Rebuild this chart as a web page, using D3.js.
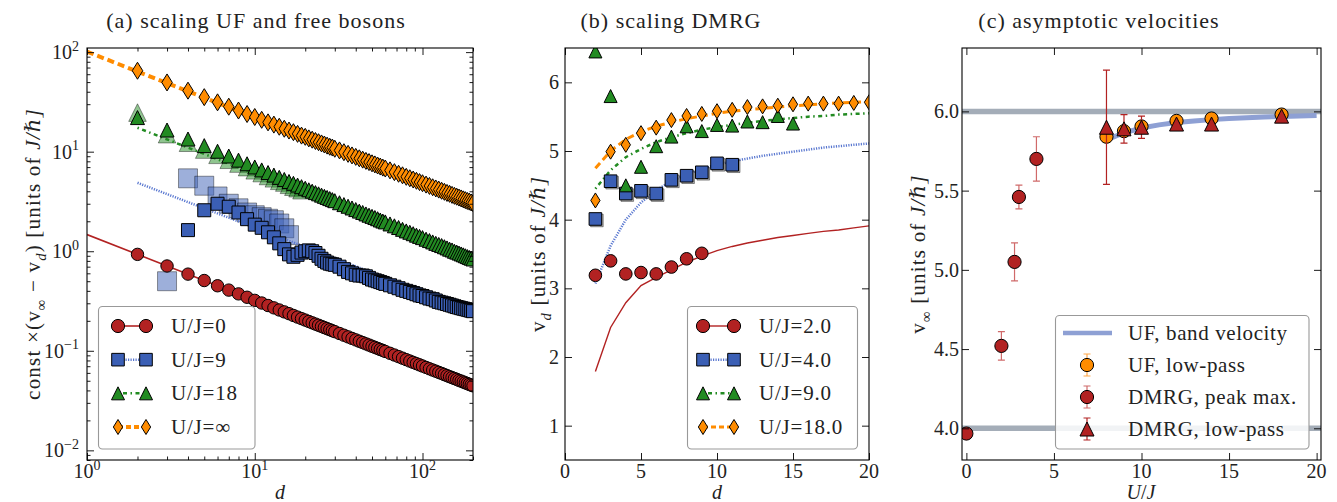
<!DOCTYPE html>
<html>
<head>
<meta charset="utf-8">
<script src="https://cdn.jsdelivr.net/npm/d3@7"></script>
<style>
body { margin: 0; background: #fff; }
svg text { font-family: "Liberation Serif", "DejaVu Serif", serif; fill: #222; }
</style>
</head>
<body>
<svg width="1337" height="502"></svg>
<script>
// ---------- (a) scaling UF and free bosons ----------
var dA = [2,3,4,5,6,7,8,9,10,11,12,13,14,15,16,17,18,19,20,21,22,23,24,25,26,27,28,29,30,
  32,34,36,38,40,42,44,46,48,50,52,54,56,58,60,64,68,72,76,80,84,88,92,96,100,
  105,110,115,120,125,130,135,140,145,150,155,160,165,170,175,180,185,190,195,200];
var ufU0 = [0.930,0.711,0.589,0.508,0.450,0.407,0.373,0.345,0.321,0.302,0.285,0.270,0.257,0.246,0.236,0.2265,0.218,0.2105,0.2035,0.197,0.191,0.1855,0.1805,0.1757,0.1712,0.1669,0.1630,0.1592,0.1557,
  0.1492,0.1434,0.1380,0.1332,0.1288,0.1247,0.1209,0.1174,0.1142,0.1111,0.1083,0.1056,0.1031,0.1008,0.0985,
  0.0944,0.0907,0.0874,0.0843,0.0815,0.0789,0.0765,0.0743,0.0723,0.0703,
  0.0681,0.0660,0.0641,0.0624,0.0607,0.0592,0.0577,0.0563,0.0550,0.0538,0.0527,0.0516,0.0505,0.0496,0.0486,0.0477,0.0469,0.0460,0.0453,0.0445];
var dU9 = dA.slice(2);
var ufU9 = [1.63,2.58,3.0,2.8,2.45,2.1,1.85,1.72,1.55,1.38,1.2,1.05,0.93,0.88,0.92,0.97,1.0,1.02,1.0,0.96,0.9,0.84,0.8,0.77,0.75,0.74,0.73,
  0.70,0.66,0.62,0.60,0.58,0.57,0.57,0.56,0.54,0.52,0.51,0.50,0.49,0.48,0.47,
  0.455,0.44,0.425,0.41,0.40,0.39,0.38,0.37,0.36,0.355,
  0.345,0.335,0.33,0.32,0.31,0.305,0.30,0.295,0.29,0.285,0.28,0.275,0.272,0.268,0.265,0.262,0.259,0.256,0.253,0.25];
var dU9b = [3,4,5,6,7,8,9,10,11,12,13,14,15,16];
var ufU9b = [0.50,5.4,4.55,3.55,3.0,2.7,2.45,2.3,2.2,2.12,2.05,1.9,1.7,1.45];
var ufU18 = [22.0,16.5,13.4,11.5,10.1,9.04,8.22,7.56,7.02,6.56,6.17,5.82,5.52,5.26,5.02,4.81,4.62,4.45,4.29,4.14,4.01,3.88,3.77,3.66,3.56,3.47,3.38,3.30,3.22,
  3.07,2.94,2.83,2.72,2.62,2.53,2.45,2.37,2.30,2.24,2.18,2.12,2.06,2.01,1.97,
  1.88,1.80,1.73,1.66,1.60,1.55,1.50,1.45,1.41,1.37,
  1.32,1.28,1.24,1.20,1.17,1.14,1.11,1.08,1.05,1.03,1.00,0.980,0.959,0.939,0.920,0.901,0.884,0.867,0.852,0.836];
var dU18b = [2,3,4,5,6,7,8,9,10,11,12,13,14,15,16,17,18,19];
var ufU18b = [24.7,15.0,12.3,10.5,9.3,8.3,7.6,7.0,6.5,6.1,5.7,5.4,5.1,4.9,4.65,4.45,4.3,4.1];
var ufInf = [65.0,49.6,41.0,35.3,31.3,28.3,25.9,23.9,22.3,20.9,19.7,18.7,17.8,17.0,16.3,15.7,15.1,14.5,14.1,13.6,13.2,12.8,12.45,12.1,11.8,11.5,11.2,11.0,10.7,
  10.3,9.88,9.51,9.17,8.87,8.58,8.32,8.08,7.86,7.64,7.45,7.26,7.09,6.92,6.77,
  6.49,6.23,6.00,5.79,5.59,5.41,5.25,5.10,4.95,4.82,
  4.67,4.53,4.39,4.27,4.16,4.05,3.95,3.85,3.77,3.68,3.60,3.53,3.46,3.39,3.32,3.26,3.20,3.15,3.09,3.04];
// fitted power laws (end points)
var fitD0 = [1,200], fit0 = [1.47,0.0445];
var fitD9 = [2,200], fit9 = [4.87,0.25];
var fitD18 = [2,200], fit18 = [17.4,0.82];
var fitDInf = [1,200], fitInf = [101,3.04];
var legendA = ["U/J=0","U/J=9","U/J=18","U/J=\u221e"];

// ---------- (b) scaling DMRG ----------
var dB = [2,3,4,5,6,7,8,9,10,11,12,13,14,15,16,17,18,19,20];
var lineB2 = [1.79,2.43,2.79,3.04,3.16,3.27,3.38,3.47,3.55,3.61,3.66,3.70,3.74,3.77,3.80,3.83,3.85,3.88,3.91];
var lineB4 = [3.07,3.62,4.0,4.25,4.43,4.56,4.66,4.74,4.80,4.85,4.89,4.93,4.96,4.99,5.02,5.05,5.07,5.09,5.11];
var lineB9 = [4.45,4.72,4.91,5.03,5.13,5.2,5.26,5.31,5.35,5.38,5.41,5.44,5.46,5.48,5.5,5.51,5.53,5.54,5.55];
var lineB18 = [4.75,5.0,5.17,5.28,5.36,5.42,5.47,5.51,5.55,5.58,5.6,5.62,5.64,5.66,5.67,5.69,5.7,5.71,5.72];
var dmrgB2 = [3.19,3.40,3.21,3.23,3.21,3.31,3.43,3.51];
var dmrgB4 = [4.01,4.56,4.38,4.42,4.38,4.58,4.64,4.69,4.82,4.80];
var dmrgB9 = [6.45,5.80,4.50,4.77,5.07,5.21,5.36,5.29,5.38,5.37,5.43,5.42,5.51,5.40];
var dmrgB18 = [4.28,4.99,5.09,5.26,5.34,5.45,5.51,5.54,5.58,5.60,5.64,5.65,5.66,5.68,5.69,5.69,5.69,5.70,5.71];
var legendB = ["U/J=2.0","U/J=4.0","U/J=9.0","U/J=18.0"];

// ---------- (c) asymptotic velocities ----------
var bandU = [8,9,10,11,12,13,14,15,16,17,18,19,20];
var bandV = [5.82,5.865,5.895,5.915,5.93,5.94,5.948,5.955,5.96,5.965,5.968,5.971,5.974];
var limitV = [6.0,4.0];
var ufLowU = [8,9,10,12,14,18], ufLowV = [5.84,5.875,5.905,5.94,5.955,5.98], ufLowE = [0.01,0.01,0.01,0.006,0.006,0.006];
var peakU = [0,2,2.75,3,4], peakV = [3.967,4.52,5.05,5.46,5.70], peakE = [0.015,0.09,0.12,0.075,0.14];
var lowU = [8,9,10,12,14,18], lowV = [5.90,5.89,5.90,5.92,5.92,5.97], lowE = [0.36,0.09,0.07,0.01,0.01,0.01];
var legendC = ["UF, band velocity","UF, low-pass","DMRG, peak max.","DMRG, low-pass"];

var RED = "#b22222", BLUE = "#3b5fb5", GREEN = "#228b22", ORANGE = "#ff8c00";

var svg = d3.select("svg");

function mk(type, s) {
  if (type == "circle") return d3.symbol(d3.symbolCircle, Math.PI * s * s)();
  if (type == "square") return d3.symbol(d3.symbolSquare, 4 * s * s)();
  if (type == "triangle") return "M0," + (-s) + "L" + s + "," + s + "L" + (-s) + "," + s + "Z";
  return "M0," + (-s) + "L" + (0.62 * s) + ",0L0," + s + "L" + (-0.62 * s) + ",0Z";
}

function drawMarks(g, x, y, xs, ys, type, s, fill, op) {
  g.append("g").selectAll("path").data(d3.zip(xs, ys)).join("path")
    .attr("d", mk(type, s))
    .attr("transform", function(d) { return "translate(" + x(d[0]) + "," + y(d[1]) + ")"; })
    .attr("fill", fill).attr("fill-opacity", op == null ? 1 : op)
    .attr("stroke", "#000").attr("stroke-opacity", op == null ? 1 : op * 0.8)
    .attr("stroke-width", 1);
}

function drawLine(g, x, y, xs, ys, color, w, dash) {
  g.append("path").datum(d3.zip(xs, ys))
    .attr("d", d3.line().x(function(d) { return x(d[0]); }).y(function(d) { return y(d[1]); }))
    .attr("fill", "none").attr("stroke", color).attr("stroke-width", w)
    .attr("stroke-dasharray", dash || null);
}

function inTicks(g, x, y, box, xv, yv, len) {
  var list = [
    [d3.axisBottom(x), "translate(0," + box.y1 + ")", xv],
    [d3.axisTop(x), "translate(0," + box.y0 + ")", xv],
    [d3.axisLeft(y), "translate(" + box.x0 + ",0)", yv],
    [d3.axisRight(y), "translate(" + box.x1 + ",0)", yv]];
  list.forEach(function(a) {
    var gg = g.append("g").attr("transform", a[1])
      .call(a[0].tickValues(a[2]).tickSize(-len).tickFormat(""));
    gg.select(".domain").remove();
    gg.selectAll("text").remove();
    gg.selectAll("line").attr("stroke", "#000").attr("stroke-width", 0.9);
  });
}

function frame(g, box) {
  g.append("rect").attr("x", box.x0).attr("y", box.y0)
    .attr("width", box.x1 - box.x0).attr("height", box.y1 - box.y0)
    .attr("fill", "none").attr("stroke", "#000").attr("stroke-width", 1.1);
}

function clip(id, box) {
  svg.append("defs").append("clipPath").attr("id", id).append("rect")
    .attr("x", box.x0).attr("y", box.y0).attr("width", box.x1 - box.x0).attr("height", box.y1 - box.y0);
}

// rich text: parts = [[text, kind]], kind: "", "i", "sub", "subi", "sup"
function rich(g, x, y, parts, size, rot, anchor, ls) {
  var t = g.append("text").attr("x", x).attr("y", y)
    .attr("font-size", size).attr("text-anchor", anchor || "middle")
    .attr("letter-spacing", ls || 0);
  if (rot) t.attr("transform", "rotate(-90," + x + "," + y + ")");
  var shift = 0;
  parts.forEach(function(p) {
    var sp = t.append("tspan").text(p[0]);
    var want = p[1].indexOf("sub") == 0 ? size * 0.28 : (p[1] == "sup" ? -size * 0.42 : 0);
    if (want != shift) { sp.attr("dy", want - shift); shift = want; }
    if (p[1] == "sub" || p[1] == "subi" || p[1] == "sup") sp.attr("font-size", size * 0.7);
    if (p[1] == "i" || p[1] == "subi") sp.attr("font-style", "italic");
  });
  return t;
}

function title(x, s) {
  svg.append("text").attr("x", x).attr("y", 28).attr("text-anchor", "middle")
    .attr("font-size", 22).attr("letter-spacing", 1).text(s);
}

function legendFrame(g, x, y, w, h) {
  g.append("rect").attr("x", x).attr("y", y).attr("width", w).attr("height", h).attr("rx", 4)
    .attr("fill", "#fff").attr("fill-opacity", 0.85).attr("stroke", "#999").attr("stroke-width", 1.1);
}

// ================= panel (a) =================
var boxA = {x0: 87, x1: 473, y0: 48, y1: 460};
var xA = d3.scaleLog().domain([1, 200]).range([boxA.x0, boxA.x1]);
var yA = d3.scaleLog().domain([0.008, 110]).range([boxA.y1, boxA.y0]);
clip("clipA", boxA);
var gA = svg.append("g");
var pA = gA.append("g").attr("clip-path", "url(#clipA)");

drawMarks(pA, xA, yA, dU9b, ufU9b, "square", 9.5, BLUE, 0.5);
drawMarks(pA, xA, yA, dU18b, ufU18b, "triangle", 8.8, GREEN, 0.5);
drawLine(pA, xA, yA, fitD9, fit9, "#5a78d0", 2.5, "1.2,1.3");
drawLine(pA, xA, yA, fitD18, fit18, GREEN, 2.5, "1.5,3.5,4,3.5");
drawLine(pA, xA, yA, fitDInf, fitInf, ORANGE, 4, "7,4");
drawLine(pA, xA, yA, fitD0, fit0, RED, 1.6);
drawMarks(pA, xA, yA, dU9, ufU9, "square", 6.5, BLUE);
drawMarks(pA, xA, yA, dA, ufU18, "triangle", 7, GREEN);
drawMarks(pA, xA, yA, dA, ufInf, "diamond", 8.5, ORANGE);
drawMarks(pA, xA, yA, dA, ufU0, "circle", 6.2, RED);

var majA = function(v) { return Math.abs(Math.log10(v) - Math.round(Math.log10(v))) < 1e-6; };
var xtA = xA.ticks(), ytA = yA.ticks();
inTicks(gA, xA, yA, boxA, xtA.filter(majA), ytA.filter(majA), 7);
inTicks(gA, xA, yA, boxA, xtA.filter(function(v) { return !majA(v); }), ytA.filter(function(v) { return !majA(v); }), 3.5);
frame(gA, boxA);

function pow10(v) { var e = Math.round(Math.log10(v)); return (e < 0 ? "\u2212" : "") + Math.abs(e); }
xtA.filter(majA).forEach(function(v) {
  rich(gA, xA(v), 478, [["10", ""], [pow10(v), "sup"]], 20, false, "middle");
});
ytA.filter(majA).forEach(function(v) {
  rich(gA, 79, yA(v) + 7, [["10", ""], [pow10(v), "sup"]], 20, false, "end");
});
rich(gA, 280, 499, [["d", "i"]], 20, false, "middle");
rich(gA, 40, 254, [["const \u00d7(v", ""], ["\u221e", "sub"], [" \u2212 v", ""], ["d", "subi"], [") [units of ", ""], ["J", "i"], ["/\u210f]", "i"]], 21, true, "middle", 1.2);
title(256, "(a) scaling UF and free bosons");

// legend (a)
var legA = gA.append("g");
legendFrame(legA, 98.5, 306.5, 156.5, 142.5);
var legTypesA = [["circle", RED, RED, 1.6, null, 6.6], ["square", BLUE, "#5a78d0", 2.5, "1.2,1.3", 6.3], ["triangle", GREEN, GREEN, 2.5, "1.5,3.5,4,3.5", 6.5], ["diamond", ORANGE, ORANGE, 4, "5,3", 7.5]];
var legYA = d3.scalePoint().domain(legendA).range([326, 427]);
legendA.forEach(function(s, i) {
  var t = legTypesA[i], yy = legYA(s);
  drawLine(legA, function(v) { return v; }, function(v) { return v; }, [118, 146], [yy, yy], t[2], t[3], t[4]);
  drawMarks(legA, function(v) { return v; }, function(v) { return v; }, [118, 146], [yy, yy], t[0], t[5], t[1]);
  legA.append("text").attr("x", 171).attr("y", yy + 7).attr("font-size", 21).attr("letter-spacing", 0.8).text(s);
});

// ================= panel (b) =================
var boxB = {x0: 565, x1: 869, y0: 48, y1: 460};
var xB = d3.scaleLinear().domain([0, 20]).range([boxB.x0, boxB.x1]);
var yB = d3.scaleLinear().domain([0.5, 6.5]).range([boxB.y1, boxB.y0]);
clip("clipB", boxB);
var gB = svg.append("g");
var pB = gB.append("g").attr("clip-path", "url(#clipB)");
drawLine(pB, xB, yB, dB, lineB2, RED, 1.4);
drawLine(pB, xB, yB, dB, lineB4, "#5a78d0", 2.5, "1.2,1.3");
drawLine(pB, xB, yB, dB, lineB9, GREEN, 2.5, "1.5,3.5,4,3.5");
drawLine(pB, xB, yB, dB, lineB18, ORANGE, 3, "7,4");
// grey shadow behind DMRG U/J=4 squares
pB.append("g").attr("transform", "translate(1.5,1.5)").call(function(g) {
  drawMarks(g, xB, yB, dB.slice(0, dmrgB4.length), dmrgB4, "square", 6.3, "#666", 0.5);
});
drawMarks(pB, xB, yB, dB.slice(0, dmrgB4.length), dmrgB4, "square", 6.3, BLUE);
drawMarks(pB, xB, yB, dB.slice(0, dmrgB9.length), dmrgB9, "triangle", 6.5, GREEN);
drawMarks(pB, xB, yB, dB.slice(0, dmrgB18.length), dmrgB18, "diamond", 7.5, ORANGE);
drawMarks(pB, xB, yB, dB.slice(0, dmrgB2.length), dmrgB2, "circle", 6.3, RED);
var xtB = xB.ticks(4), ytB = d3.range(1, 7);
inTicks(gB, xB, yB, boxB, xtB, ytB, 7);
frame(gB, boxB);
gB.selectAll(".xl").data(xtB).join("text").attr("class", "xl")
  .attr("x", function(d) { return xB(d); }).attr("y", 478).attr("text-anchor", "middle")
  .attr("font-size", 20).text(function(d) { return d; });
gB.selectAll(".yl").data(ytB).join("text").attr("class", "yl")
  .attr("x", 559).attr("y", function(d) { return yB(d) + 7; }).attr("text-anchor", "end")
  .attr("font-size", 20).text(function(d) { return d; });
rich(gB, 717, 499, [["d", "i"]], 20, false, "middle");
rich(gB, 545, 254, [["v", ""], ["d", "subi"], [" [units of ", ""], ["J", "i"], ["/\u210f]", "i"]], 21, true, "middle", 1.2);
title(671, "(b) scaling DMRG");

var legB = gB.append("g");
legendFrame(legB, 687.5, 306.5, 170, 142.5);
var legTypesB = [["circle", RED, RED, 1.4, null, 6.6], ["square", BLUE, "#5a78d0", 2.5, "1.2,1.3", 6.3], ["triangle", GREEN, GREEN, 2.5, "1.5,3.5,4,3.5", 6.5], ["diamond", ORANGE, ORANGE, 3, "5,3", 7.5]];
var legYB = d3.scalePoint().domain(legendB).range([326, 427]);
legendB.forEach(function(s, i) {
  var t = legTypesB[i], yy = legYB(s);
  drawLine(legB, function(v) { return v; }, function(v) { return v; }, [703, 734], [yy, yy], t[2], t[3], t[4]);
  drawMarks(legB, function(v) { return v; }, function(v) { return v; }, [703, 734], [yy, yy], t[0], t[5], t[1]);
  legB.append("text").attr("x", 759).attr("y", yy + 7).attr("font-size", 21).attr("letter-spacing", 0.8).text(s);
});

// ================= panel (c) =================
var boxC = {x0: 962, x1: 1321, y0: 48, y1: 460};
var xC = d3.scaleLinear().domain([-0.25, 20.25]).range([boxC.x0, boxC.x1]);
var yC = d3.scaleLinear().domain([3.8, 6.4]).range([boxC.y1, boxC.y0]);
clip("clipC", boxC);
var gC = svg.append("g");
var pC = gC.append("g").attr("clip-path", "url(#clipC)");
limitV.forEach(function(v) {
  drawLine(pC, xC, yC, [-0.25, 20.25], [v, v], "#a4adb8", 5.5);
});
drawLine(pC, xC, yC, bandU, bandV, "#8ea0d4", 5);

function errBars(g, xs, ys, es, color, w) {
  var rows = d3.zip(xs, ys, es);
  g.append("g").selectAll("path").data(rows).join("path")
    .attr("d", function(d) {
      var x = xC(d[0]), y0 = yC(d[1] - d[2]), y1 = yC(d[1] + d[2]);
      return "M" + x + "," + y0 + "V" + y1 + "M" + (x - 3.5) + "," + y0 + "H" + (x + 3.5) + "M" + (x - 3.5) + "," + y1 + "H" + (x + 3.5);
    })
    .attr("stroke", color).attr("stroke-width", w).attr("fill", "none");
}
errBars(pC, ufLowU, ufLowV, ufLowE, "#ffa94d", 1.2);
drawMarks(pC, xC, yC, ufLowU, ufLowV, "circle", 6.6, ORANGE);
errBars(pC, peakU, peakV, peakE, "#d06a6a", 1.2);
drawMarks(pC, xC, yC, peakU, peakV, "circle", 6.6, RED);
errBars(pC, lowU, lowV, lowE, RED, 1.2);
drawMarks(pC, xC, yC, lowU, lowV, "triangle", 7, RED);

var xtC = [0, 5, 10, 15, 20], ytC = [4.0, 4.5, 5.0, 5.5, 6.0];
inTicks(gC, xC, yC, boxC, xtC, ytC, 7);
frame(gC, boxC);
gC.selectAll(".xl").data(xtC).join("text").attr("class", "xl")
  .attr("x", function(d) { return xC(d); }).attr("y", 478).attr("text-anchor", "middle")
  .attr("font-size", 20).text(function(d) { return d; });
gC.selectAll(".yl").data(ytC).join("text").attr("class", "yl")
  .attr("x", 959).attr("y", function(d) { return yC(d) + 7; }).attr("text-anchor", "end")
  .attr("font-size", 20).text(function(d) { return d3.format(".1f")(d); });
rich(gC, 1141, 499, [["U", "i"], ["/", ""], ["J", "i"]], 20, false, "middle");
rich(gC, 925, 254, [["v", ""], ["\u221e", "sub"], [" [units of ", ""], ["J", "i"], ["/\u210f]", "i"]], 21, true, "middle", 1.2);
title(1099, "(c) asymptotic velocities");

var legC = gC.append("g");
legendFrame(legC, 1055.5, 315.5, 253.5, 133.5);
var legYC = d3.scalePoint().domain(legendC).range([333, 429]);
var id = function(v) { return v; };
drawLine(legC, id, id, [1063, 1112], [legYC(legendC[0]), legYC(legendC[0])], "#8ea0d4", 4.5);
var legMk = [null, ["circle", ORANGE, "#ffa94d"], ["circle", RED, "#d06a6a"], ["triangle", RED, RED]];
legendC.forEach(function(s, i) {
  var yy = legYC(s), m = legMk[i];
  if (m) {
    legC.append("path").attr("d", "M1087," + (yy - 11) + "V" + (yy + 11) + "M1083.5," + (yy - 11) + "H1090.5M1083.5," + (yy + 11) + "H1090.5")
      .attr("stroke", m[2]).attr("stroke-width", 1.2).attr("fill", "none");
    drawMarks(legC, id, id, [1087], [yy], m[0], m[0] == "circle" ? 6.6 : 7, m[1]);
  }
  legC.append("text").attr("x", 1128).attr("y", yy + 7).attr("font-size", 21).attr("letter-spacing", 0.6).text(s);
});
</script>
</body>
</html>
